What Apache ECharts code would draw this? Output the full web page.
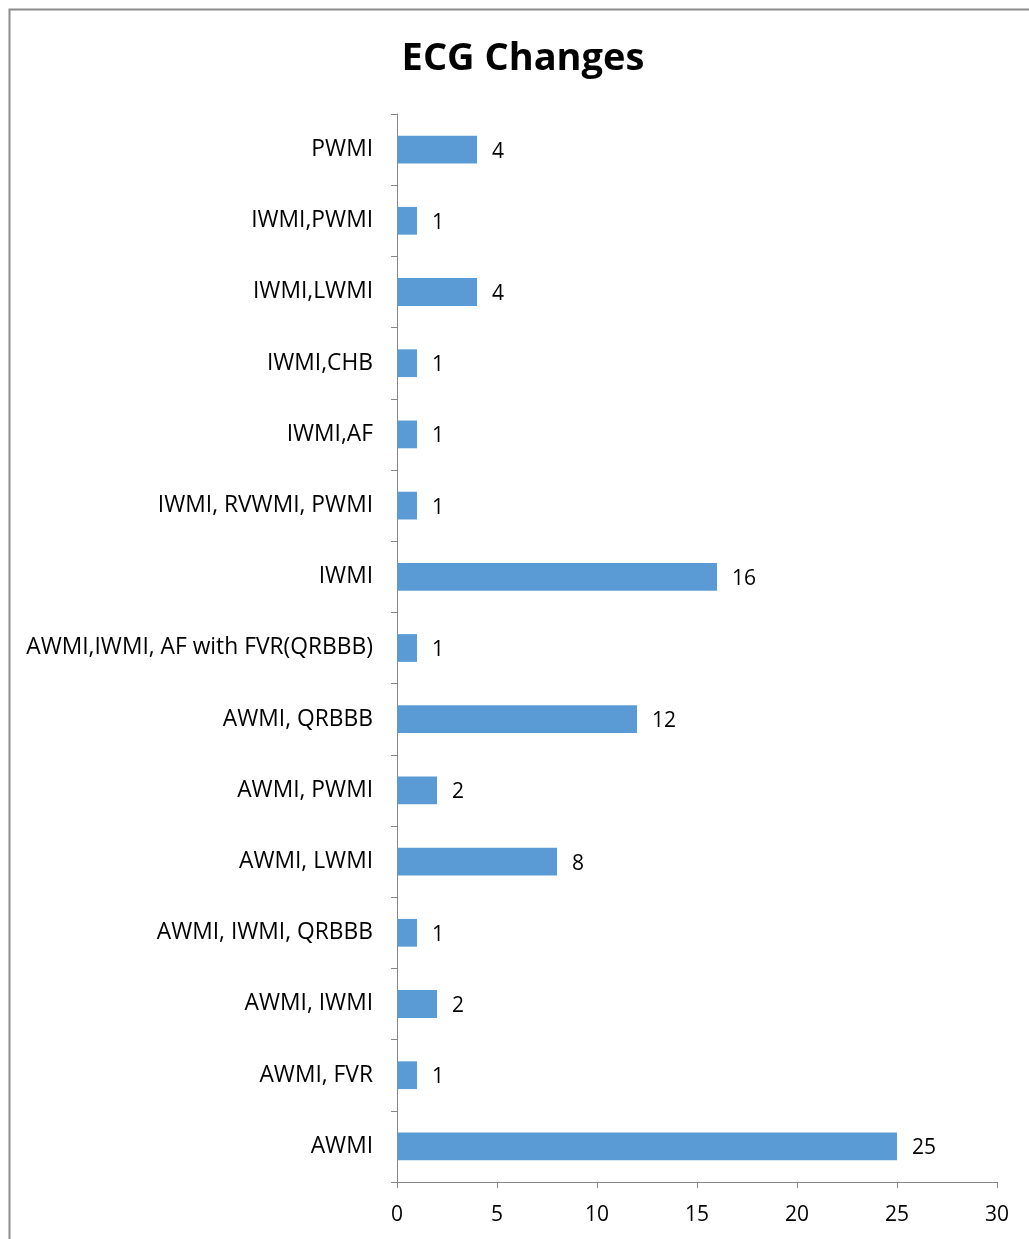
<!DOCTYPE html>
<html>
<head>
<meta charset="utf-8">
<script src="https://cdn.jsdelivr.net/npm/echarts@6/dist/echarts.min.js"></script>
<style>
html,body{margin:0;padding:0;background:#fff;}
#chart{width:1029px;height:1239px;}
</style>
</head>
<body>
<div id="chart"></div>
<script>
const categories = [
  "AWMI",
  "AWMI, FVR",
  "AWMI, IWMI",
  "AWMI, IWMI, QRBBB",
  "AWMI, LWMI",
  "AWMI, PWMI",
  "AWMI, QRBBB",
  "AWMI,IWMI, AF with FVR(QRBBB)",
  "IWMI",
  "IWMI, RVWMI, PWMI",
  "IWMI,AF",
  "IWMI,CHB",
  "IWMI,LWMI",
  "IWMI,PWMI",
  "PWMI"
];
const values = [25, 1, 2, 1, 8, 2, 12, 1, 16, 1, 1, 1, 4, 1, 4];
const xTicks = [0, 5, 10, 15, 20, 25, 30];
const titleText = "ECG Changes";

const font = "'Open Sans', 'Liberation Sans', sans-serif";
const chart = echarts.init(document.getElementById('chart'), null, {renderer: 'canvas'});
chart.setOption({
  animation: false,
  backgroundColor: '#fff',
  title: {
    text: titleText,
    left: 518, top: 35,
    textAlign: 'center',
    textStyle: {fontFamily: font, fontSize: 38, fontWeight: 'bold', color: '#000'}
  },
  graphic: [{
    type: 'polyline',
    shape: {points: [[9.5, 1239], [9.5, 9.5], [1029, 9.5]]},
    style: {stroke: '#8c8c8c', lineWidth: 2, fill: null},
    silent: true
  }],
  grid: {left: 397, right: 32, top: 114, bottom: 57, containLabel: false},
  xAxis: {
    type: 'value',
    min: xTicks[0], max: xTicks[xTicks.length - 1], interval: 5,
    axisLine: {show: true, lineStyle: {color: '#868686', width: 1}},
    axisTick: {show: true, length: 6, lineStyle: {color: '#868686'}},
    splitLine: {show: false},
    axisLabel: {fontFamily: font, fontSize: 21, color: '#000', margin: 23}
  },
  yAxis: {
    type: 'category',
    data: categories,
    axisLine: {show: true, lineStyle: {color: '#868686', width: 1}},
    axisTick: {show: true, length: 6, alignWithLabel: false, lineStyle: {color: '#868686'}},
    axisLabel: {fontFamily: font, fontSize: 22.8, color: '#000', margin: 24}
  },
  series: [{
    type: 'bar',
    data: values,
    barWidth: '39%',
    itemStyle: {color: '#5B9BD5'},
    label: {show: true, position: 'right', distance: 15, offset: [0, 2], fontFamily: font, fontSize: 21, color: '#000'}
  }]
});
</script>
</body>
</html>
